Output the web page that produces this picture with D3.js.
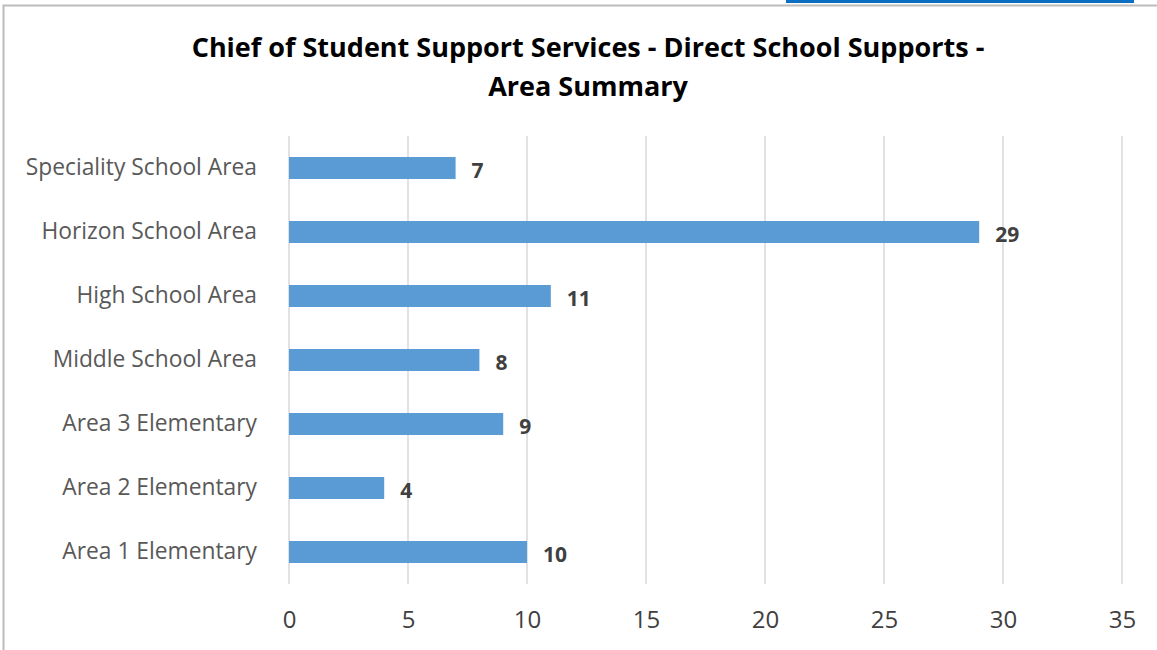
<!DOCTYPE html>
<html>
<head>
<meta charset="utf-8">
<title>Area Summary</title>
<script src="https://d3js.org/d3.v7.min.js"></script>
<style>
  body { margin: 0; background: #fff; }
  svg { display: block; }
  .title { font-family: "Open Sans", sans-serif; font-weight: bold; font-size: 27px; fill: #000; }
  .cat { font-family: "Open Sans", sans-serif; font-size: 22.8px; fill: #595959; }
  .tick text { font-family: "Open Sans", sans-serif; font-size: 24px; fill: #404040; }
  .val { font-family: "Open Sans", sans-serif; font-weight: bold; font-size: 21px; fill: #404040; }
</style>
</head>
<body>
<div id="chart"></div>
<script>
// data, top to bottom as drawn
const categories = ["Speciality School Area", "Horizon School Area", "High School Area",
                    "Middle School Area", "Area 3 Elementary", "Area 2 Elementary", "Area 1 Elementary"];
const values = [7, 29, 11, 8, 9, 4, 10];
const xTicks = [0, 5, 10, 15, 20, 25, 30, 35];
const titleLines = ["Chief of Student Support Services - Direct School Supports -", "Area Summary"];

const width = 1157, height = 650;
const plotLeft = 289, plotRight = 1122, plotTop = 136, plotBottom = 584;

const svg = d3.select("#chart").append("svg")
    .attr("width", width)
    .attr("height", height);

// frame of the chart object
svg.append("rect")
    .attr("x", 3.5).attr("y", 5.5)
    .attr("width", width + 10).attr("height", height + 10)
    .attr("fill", "#fff")
    .attr("stroke", "#bcbcbc")
    .attr("stroke-width", 2);

// link underline cut at top of the page
svg.append("line")
    .attr("x1", 786).attr("x2", 1134)
    .attr("y1", 1.5).attr("y2", 1.5)
    .attr("stroke", "#0a6fc2")
    .attr("stroke-width", 3);

const x = d3.scaleLinear().domain([0, 35]).range([plotLeft, plotRight]);
const y = d3.scaleBand().domain(categories).range([plotTop, plotBottom]).paddingInner(0.656).paddingOuter(0.328);

// gridlines
svg.append("g")
    .selectAll("line")
    .data(xTicks)
    .join("line")
    .attr("x1", d => x(d)).attr("x2", d => x(d))
    .attr("y1", plotTop).attr("y2", plotBottom)
    .attr("stroke", "#d9d9d9")
    .attr("stroke-width", 1.5);

// x axis labels
const xAxis = d3.axisBottom(x).tickValues(xTicks).tickSize(0).tickPadding(0);
svg.append("g")
    .attr("transform", "translate(0,628)")
    .call(xAxis)
    .call(g => g.select(".domain").remove())
    .selectAll("text").attr("dy", "0");

// bars
svg.append("g")
    .selectAll("rect")
    .data(values)
    .join("rect")
    .attr("x", x(0))
    .attr("y", (d, i) => y(categories[i]))
    .attr("width", d => x(d) - x(0))
    .attr("height", y.bandwidth())
    .attr("fill", "#5b9bd5");

// value labels
svg.append("g")
    .selectAll("text")
    .data(values)
    .join("text")
    .attr("class", "val")
    .attr("x", d => x(d) + 16)
    .attr("y", (d, i) => y(categories[i]) + y.bandwidth() / 2 + 9.5)
    .text(d => d);

// category labels
svg.append("g")
    .selectAll("text")
    .data(categories)
    .join("text")
    .attr("class", "cat")
    .attr("x", 257)
    .attr("y", d => y(d) + y.bandwidth() / 2 + 7)
    .attr("text-anchor", "end")
    .text(d => d);

// title
svg.append("g")
    .selectAll("text")
    .data(titleLines)
    .join("text")
    .attr("class", "title")
    .attr("x", 588)
    .attr("y", (d, i) => 57 + i * 39)
    .attr("text-anchor", "middle")
    .text(d => d);
</script>
</body>
</html>
